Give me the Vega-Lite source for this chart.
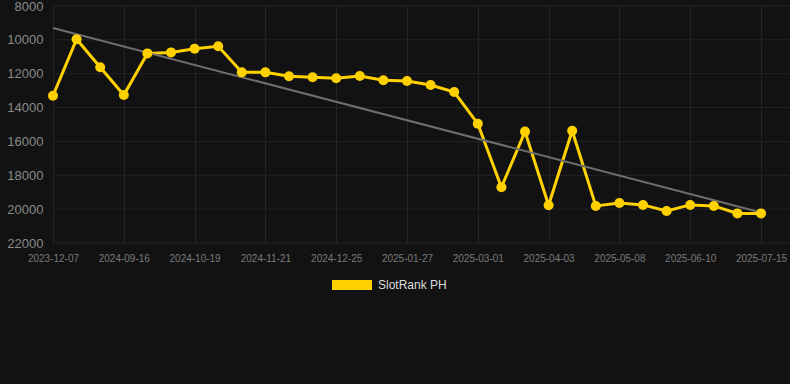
{
  "$schema": "https://vega.github.io/schema/vega-lite/v6.json",
  "autosize": "none",
  "width": 737,
  "height": 237,
  "padding": {"left": 53, "top": 6, "right": 0, "bottom": 141},
  "background": "#121212",
  "config": {
    "view": {"stroke": null},
    "font": "Liberation Sans",
    "axis": {"gridColor": "#242424", "gridWidth": 1, "domain": false, "ticks": false}
  },
  "datasets": {
    "ranks": [
      {"date": "2023-12-07", "rank": 13300, "trend": 9300, "series": "SlotRank PH"},
      {"date": "2024-08-25", "rank": 9960, "series": "SlotRank PH"},
      {"date": "2024-09-05", "rank": 11620, "series": "SlotRank PH"},
      {"date": "2024-09-16", "rank": 13260, "series": "SlotRank PH"},
      {"date": "2024-09-27", "rank": 10800, "series": "SlotRank PH"},
      {"date": "2024-10-08", "rank": 10740, "series": "SlotRank PH"},
      {"date": "2024-10-19", "rank": 10520, "series": "SlotRank PH"},
      {"date": "2024-10-30", "rank": 10380, "series": "SlotRank PH"},
      {"date": "2024-11-10", "rank": 11920, "series": "SlotRank PH"},
      {"date": "2024-11-21", "rank": 11920, "series": "SlotRank PH"},
      {"date": "2024-12-02", "rank": 12150, "series": "SlotRank PH"},
      {"date": "2024-12-13", "rank": 12210, "series": "SlotRank PH"},
      {"date": "2024-12-25", "rank": 12270, "series": "SlotRank PH"},
      {"date": "2025-01-05", "rank": 12130, "series": "SlotRank PH"},
      {"date": "2025-01-16", "rank": 12390, "series": "SlotRank PH"},
      {"date": "2025-01-27", "rank": 12430, "series": "SlotRank PH"},
      {"date": "2025-02-07", "rank": 12670, "series": "SlotRank PH"},
      {"date": "2025-02-18", "rank": 13080, "series": "SlotRank PH"},
      {"date": "2025-03-01", "rank": 14950, "series": "SlotRank PH"},
      {"date": "2025-03-12", "rank": 18710, "series": "SlotRank PH"},
      {"date": "2025-03-23", "rank": 15420, "series": "SlotRank PH"},
      {"date": "2025-04-03", "rank": 19770, "series": "SlotRank PH"},
      {"date": "2025-04-15", "rank": 15370, "series": "SlotRank PH"},
      {"date": "2025-04-26", "rank": 19810, "series": "SlotRank PH"},
      {"date": "2025-05-08", "rank": 19640, "series": "SlotRank PH"},
      {"date": "2025-05-19", "rank": 19750, "series": "SlotRank PH"},
      {"date": "2025-05-30", "rank": 20110, "series": "SlotRank PH"},
      {"date": "2025-06-10", "rank": 19750, "series": "SlotRank PH"},
      {"date": "2025-06-21", "rank": 19810, "series": "SlotRank PH"},
      {"date": "2025-07-03", "rank": 20250, "series": "SlotRank PH"},
      {"date": "2025-07-15", "rank": 20250, "trend": 20200, "series": "SlotRank PH"}
    ],
    "grid": [
      {"rank": 8000}, {"rank": 10000}, {"rank": 12000}, {"rank": 14000},
      {"rank": 16000}, {"rank": 18000}, {"rank": 20000}, {"rank": 22000}
    ]
  },
  "data": {"name": "ranks"},
  "encoding": {
    "x": {
      "field": "date", "type": "ordinal", "sort": null,
      "scale": {"type": "point", "range": [0, 708], "padding": 0, "domain": ["2023-12-07","2024-08-25","2024-09-05","2024-09-16","2024-09-27","2024-10-08","2024-10-19","2024-10-30","2024-11-10","2024-11-21","2024-12-02","2024-12-13","2024-12-25","2025-01-05","2025-01-16","2025-01-27","2025-02-07","2025-02-18","2025-03-01","2025-03-12","2025-03-23","2025-04-03","2025-04-15","2025-04-26","2025-05-08","2025-05-19","2025-05-30","2025-06-10","2025-06-21","2025-07-03","2025-07-15"]},
      "axis": {
        "title": null, "labelAngle": 0, "labelColor": "#7a7a7a", "labelFontSize": 10,
        "labelPadding": 10, "grid": true,
        "values": ["2023-12-07","2024-09-16","2024-10-19","2024-11-21","2024-12-25","2025-01-27","2025-03-01","2025-04-03","2025-05-08","2025-06-10","2025-07-15"]
      }
    },
    "y": {
      "field": "rank", "type": "quantitative",
      "scale": {"domain": [8000, 22000], "reverse": true, "nice": false, "zero": false},
      "axis": {"title": null, "format": "d", "values": [8000,10000,12000,14000,16000,18000,20000,22000], "labelColor": "#8a8a8a", "labelFontSize": 13, "labelPadding": 10, "grid": false}
    }
  },
  "layer": [
    {
      "data": {"name": "grid"},
      "mark": {"type": "rule", "color": "#242424", "strokeWidth": 1},
      "encoding": {
        "x": null,
        "y": {"field": "rank", "type": "quantitative"}
      }
    },
    {
      "mark": {"type": "line", "strokeWidth": 3},
      "encoding": {
        "color": {
          "field": "series", "type": "nominal",
          "scale": {"range": ["#FFD100"]},
          "legend": {
            "title": null, "orient": "none", "legendX": 279, "legendY": 259,
            "symbolType": "M-1,-0.25H1V0.25H-1Z", "symbolSize": 1600,
            "symbolFillColor": "#FFD100", "symbolStrokeWidth": 0,
            "labelColor": "#dddddd", "labelFontSize": 12, "labelOffset": 6
          }
        }
      }
    },
    {
      "transform": [{"filter": "datum.trend != null"}],
      "mark": {"type": "line", "color": "#6e6e6e", "strokeWidth": 2},
      "encoding": {
        "y": {"field": "trend", "type": "quantitative"}
      }
    },
    {
      "mark": {"type": "point", "filled": true, "opacity": 1, "size": 100},
      "encoding": {
        "color": {"field": "series", "type": "nominal"}
      }
    }
  ]
}
